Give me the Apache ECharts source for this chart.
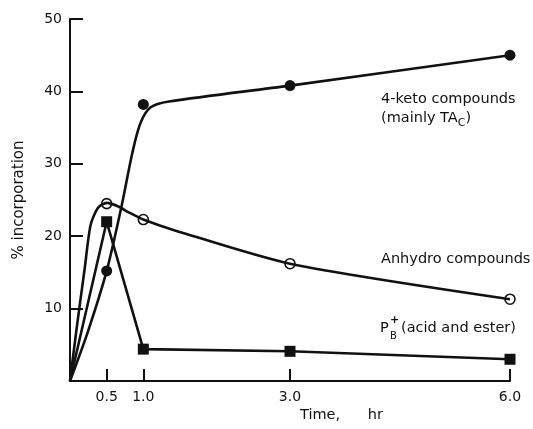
<!DOCTYPE html>
<html>
<head>
<meta charset="utf-8">
<script src="https://cdn.jsdelivr.net/npm/echarts@6/dist/echarts.min.js"></script>
<style>
  html, body { margin: 0; padding: 0; background: #fff; }
  #chart { width: 533px; height: 429px; }
</style>
</head>
<body>
<div id="chart"></div>
<script>
const times = [0.5, 1.0, 3.0, 6.0];
const ketoValues = [15.2, 38.2, 40.8, 45];
const anhydroValues = [24.5, 22.3, 16.2, 11.3];
const pbValues = [22, 4.4, 4.1, 3.0];

// hand-drawn curves
const ketoCurveT = [0, 0.25, 0.5, 0.7, 0.85, 0.96, 1.1, 1.35, 3.0, 6.0];
const ketoCurveV = [0, 7, 15.2, 24, 31.5, 35.6, 37.8, 38.6, 40.8, 45];
const anhydroCurveT = [0, 0.1, 0.2, 0.28, 0.38, 0.5, 0.66, 0.8, 1.0, 1.43, 3.0, 6.0];
const anhydroCurveV = [0, 8, 15.5, 21.5, 23.9, 24.6, 24.1, 23.3, 22.3, 20.8, 16.2, 11.3];

const xTicks = [0.5, 1.0, 3.0, 6.0];
const yTicks = [10, 20, 30, 40, 50];

const font = 'DejaVu Sans';
const ink = '#111';

const pairs = (xs, ys) => xs.map((x, i) => [x, ys[i]]);

const chart = echarts.init(document.getElementById('chart'));

chart.setOption({
  animation: false,
  backgroundColor: '#fff',
  grid: { left: 70, right: 23, top: 19, bottom: 48 },
  xAxis: {
    type: 'value',
    min: 0,
    max: 6,
    splitLine: { show: false },
    axisLine: { lineStyle: { color: ink, width: 2 } },
    axisTick: { inside: true, length: 12, customValues: xTicks, lineStyle: { color: ink, width: 2 } },
    axisLabel: {
      customValues: xTicks,
      formatter: v => v.toFixed(1),
      color: ink, fontFamily: font, fontSize: 14, margin: 9
    }
  },
  yAxis: {
    type: 'value',
    min: 0,
    max: 50,
    interval: 10,
    name: '% incorporation',
    nameLocation: 'middle',
    nameGap: 43,
    nameTextStyle: { color: ink, fontFamily: font, fontSize: 15 },
    splitLine: { show: false },
    axisLine: { show: true, lineStyle: { color: ink, width: 2 } },
    axisTick: { inside: true, length: 13, customValues: yTicks, lineStyle: { color: ink, width: 2 } },
    axisLabel: {
      customValues: yTicks,
      color: ink, fontFamily: font, fontSize: 14, margin: 8
    }
  },
  series: [
    {
      name: '4-keto curve',
      type: 'line',
      smooth: 0.3,
      symbol: 'none',
      data: pairs(ketoCurveT, ketoCurveV),
      lineStyle: { color: ink, width: 2.6 }
    },
    {
      name: 'Anhydro curve',
      type: 'line',
      smooth: 0.25,
      symbol: 'none',
      data: pairs(anhydroCurveT, anhydroCurveV),
      lineStyle: { color: ink, width: 2.6 }
    },
    {
      name: 'PB',
      type: 'line',
      data: [[0, 0]].concat(pairs(times, pbValues)).map((p, i) => i === 0 ? { value: p, symbol: 'none' } : p),
      symbol: 'rect',
      symbolSize: 11,
      showAllSymbol: true,
      lineStyle: { color: ink, width: 2.6 },
      itemStyle: { color: ink }
    },
    {
      name: '4-keto compounds',
      type: 'scatter',
      data: pairs(times, ketoValues),
      symbol: 'circle',
      symbolSize: 11,
      itemStyle: { color: ink, opacity: 1 }
    },
    {
      name: 'Anhydro compounds',
      type: 'scatter',
      data: pairs(times, anhydroValues),
      symbol: 'circle',
      symbolSize: 10,
      itemStyle: { color: '#fff', borderColor: ink, borderWidth: 1.6, opacity: 1 }
    }
  ],
  graphic: [
    { type: 'text', left: 381, top: 92, style: { text: '4-keto compounds', fill: ink, font: '14.5px ' + font } },
    {
      type: 'text', left: 381, top: 111,
      style: {
        text: '(mainly TA{sub|C})',
        fill: ink, font: '14.5px ' + font,
        rich: { sub: { fontSize: 11, fontFamily: font, fill: ink, padding: [9, 0, 0, 0] } }
      }
    },
    { type: 'text', left: 381, top: 252, style: { text: 'Anhydro compounds', fill: ink, font: '14.5px ' + font } },
    { type: 'text', left: 380, top: 321, style: { text: 'P', fill: ink, font: '14.5px ' + font } },
    { type: 'text', left: 390, top: 315, style: { text: '+', fill: ink, font: 'bold 11px ' + font } },
    { type: 'text', left: 390, top: 331, style: { text: 'B', fill: ink, font: '10px ' + font } },
    { type: 'text', left: 401, top: 321, style: { text: '(acid and ester)', fill: ink, font: '14.5px ' + font } },
    { type: 'text', left: 300, top: 408, style: { text: 'Time,      hr', fill: ink, font: '14.5px ' + font } }
  ]
});
</script>
</body>
</html>
